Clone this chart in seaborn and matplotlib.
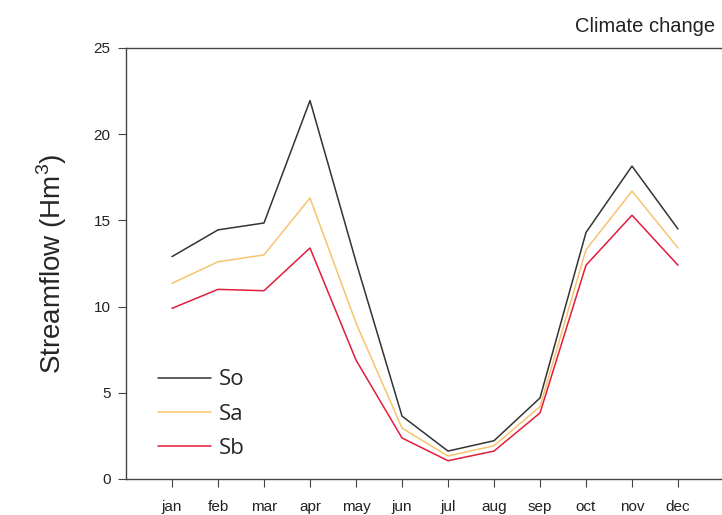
import pandas as pd
import seaborn as sns
import matplotlib.pyplot as plt

# Monthly streamflow (Hm3) per scenario
months = ["jan", "feb", "mar", "apr", "may", "jun", "jul", "aug", "sep", "oct", "nov", "dec"]
so = [12.9, 14.45, 14.85, 21.95, 12.6, 3.65, 1.62, 2.22, 4.7, 14.3, 18.15, 14.5]
sa = [11.35, 12.6, 13.0, 16.3, 9.05, 2.95, 1.33, 1.93, 4.2, 13.3, 16.7, 13.4]
sb = [9.9, 11.0, 10.92, 13.4, 6.9, 2.38, 1.06, 1.62, 3.83, 12.4, 15.3, 12.4]
scenarios = ["So", "Sa", "Sb"]
colors = ["#333333", "#f6c46e", "#e11d3c"]

df = pd.DataFrame({
    "month": months * 3,
    "flow": so + sa + sb,
    "scenario": [s for s in scenarios for _ in months],
})

sns.set_style("ticks")
plt.rcParams["font.family"] = ["Liberation Sans", "DejaVu Sans"]
plt.rcParams["mathtext.fontset"] = "custom"
plt.rcParams["mathtext.rm"] = "Liberation Sans"

fig = plt.figure(figsize=(7.22, 5.15), dpi=100)
ax = fig.add_axes([126 / 722, 36 / 515, 598 / 722, 431 / 515])

sns.lineplot(data=df, x="month", y="flow", hue="scenario", hue_order=scenarios,
             palette=colors, linewidth=1.1, ax=ax, sort=False)

ax.set_xlim(-1, 12)
ax.set_ylim(0, 25)
ax.set_yticks([0, 5, 10, 15, 20, 25])
ax.set_xlabel("")
ax.set_ylabel("Streamflow (Hm$^{3}$)", fontsize=20, labelpad=18)
ax.tick_params(axis="x", length=6, pad=9, labelsize=11, color="#444444", labelcolor="#222222")
ax.tick_params(axis="y", length=6, pad=5, labelsize=11, color="#444444", labelcolor="#222222")
for side in ["left", "bottom", "top"]:
    ax.spines[side].set_visible(True)
    ax.spines[side].set_color("#444444")
    ax.spines[side].set_linewidth(1.0)
ax.spines["right"].set_visible(False)

ax.legend(loc="lower left", bbox_to_anchor=(0.02, 0.0), frameon=False,
          handlelength=2.4, handletextpad=0.35, labelspacing=0.6,
          prop={"family": "Open Sans", "size": 16})

fig.text(0.99, 0.948, "Climate change", ha="right", va="center", fontsize=14.5, color="#222222")

fig.savefig("out.png", dpi=100)
